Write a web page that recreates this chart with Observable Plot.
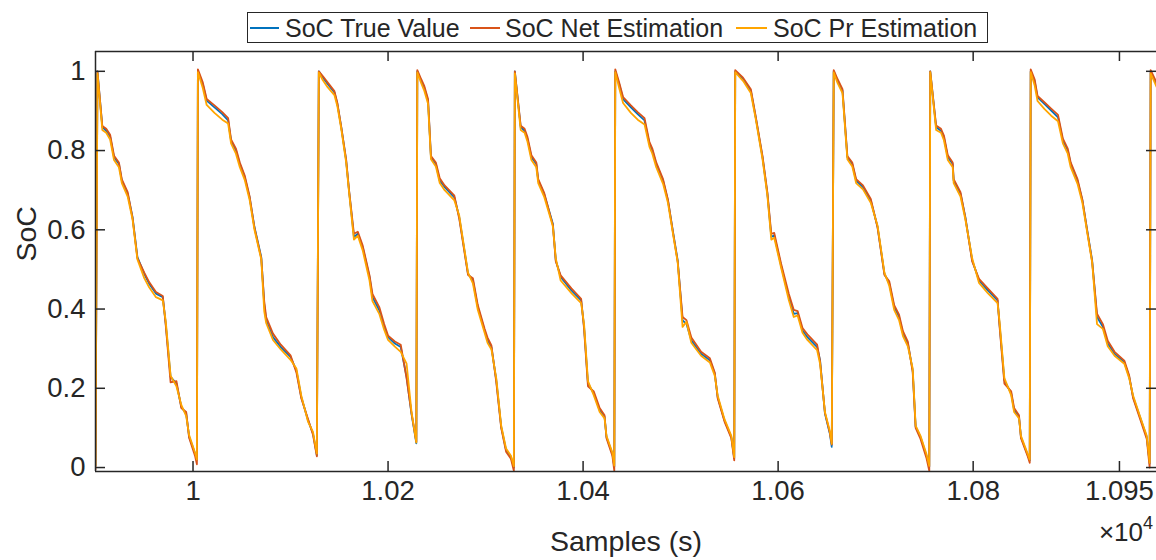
<!DOCTYPE html>
<html><head><meta charset="utf-8">
<script src="https://cdn.jsdelivr.net/npm/d3@7"></script>
<script src="https://cdn.jsdelivr.net/npm/@observablehq/plot@0.6"></script>
<style>
html,body{margin:0;padding:0;background:#fff;overflow:hidden;}
#wrap{position:relative;width:1156px;height:560px;font-family:"Liberation Sans",Arial,Helvetica,sans-serif;color:#262626;}
#legend{position:absolute;left:247px;top:12px;width:739px;height:29px;border:1.5px solid #262626;background:#fff;z-index:2;}
.sw{position:absolute;top:14px;height:2px;}
.lt{position:absolute;top:0;height:29px;line-height:30px;font-size:25px;white-space:nowrap;}
#exp{position:absolute;right:3px;top:517px;font-size:26px;white-space:nowrap;}
#exp sup{font-size:18px;vertical-align:0;position:relative;top:-12px;}
</style>
</head><body>
<div id="wrap">
  <div id="chart"></div>
  <div id="legend"></div>
  <div id="exp">×10<sup>4</sup></div>
</div>
<script>
// ---- data ----
const seriesNames = ["SoC True Value", "SoC Net Estimation", "SoC Pr Estimation"];
const seriesColors = ["#0072BD", "#D95319", "#FFA500"];

const samples = [
  9900,
  9902,9907,9911,9915,9919,9924,9927,9933,9938,9943,9950,9955,9962,9969,9972,9977,9983,9988,9993,9996,10002,10004,
  10005,10010,10014,10022,10030,10036,10039,10044,10048,10053,10058,10063,10070,10073,10075,10082,10090,10100,10106,10111,10118,10123,10127,
  10129,10133,10138,10145,10148,10152,10157,10160,10165,10169,10174,10181,10184,10191,10196,10200,10207,10213,10219,10224,10229,
  10230,10234,10237,10241,10244,10249,10253,10258,10268,10273,10282,10287,10292,10299,10302,10306,10311,10316,10321,10326,10329,
  10330,10336,10340,10343,10347,10352,10354,10360,10367,10369,10372,10377,10388,10398,10401,10405,10411,10417,10422,10424,10430,10432,
  10433,10437,10441,10449,10456,10463,10468,10471,10475,10482,10487,10492,10497,10502,10506,10511,10521,10530,10535,10538,10545,10552,10555,
  10556,10564,10572,10577,10584,10589,10593,10596,10603,10611,10616,10620,10625,10630,10640,10643,10648,10653,10655,
  10657,10661,10666,10671,10676,10680,10687,10695,10702,10709,10714,10719,10724,10728,10733,10738,10741,10746,10752,10755,
  10756,10762,10767,10770,10774,10779,10780,10787,10792,10799,10806,10815,10825,10827,10832,10839,10842,10847,10849,10856,10858,
  10859,10863,10866,10873,10880,10887,10892,10897,10900,10907,10912,10917,10922,10927,10933,10938,10945,10955,10960,10964,10971,10978,10981,
  10982,10990
];

const socTrue = [
  0.005,
  1.000,0.859,0.850,0.835,0.783,0.766,0.724,0.691,0.632,0.531,0.489,0.464,0.439,0.430,0.363,0.229,0.212,0.153,0.136,0.078,0.036,0.019,
  1.000,0.968,0.926,0.909,0.892,0.876,0.825,0.800,0.766,0.733,0.682,0.607,0.531,0.413,0.371,0.329,0.304,0.279,0.245,0.178,0.119,0.086,0.031,
  1.000,0.985,0.968,0.947,0.918,0.859,0.775,0.699,0.582,0.590,0.556,0.481,0.430,0.397,0.355,0.329,0.313,0.304,0.229,0.136,0.061,
  1.000,0.976,0.960,0.926,0.783,0.766,0.724,0.708,0.682,0.632,0.489,0.472,0.405,0.346,0.321,0.304,0.220,0.103,0.044,0.027,0.000,
  1.000,0.859,0.850,0.829,0.783,0.766,0.724,0.691,0.632,0.615,0.523,0.481,0.447,0.422,0.355,0.212,0.187,0.145,0.128,0.077,0.035,0.002,
  1.000,0.968,0.930,0.909,0.892,0.876,0.817,0.800,0.766,0.724,0.674,0.598,0.523,0.371,0.363,0.321,0.287,0.271,0.237,0.178,0.119,0.077,0.023,
  1.000,0.981,0.951,0.884,0.783,0.691,0.582,0.586,0.510,0.430,0.388,0.390,0.346,0.329,0.304,0.271,0.136,0.086,0.052,
  1.000,0.976,0.951,0.783,0.766,0.724,0.708,0.674,0.607,0.489,0.464,0.405,0.380,0.338,0.313,0.245,0.103,0.077,0.031,0.002,
  1.000,0.859,0.850,0.834,0.783,0.766,0.724,0.691,0.632,0.523,0.472,0.447,0.422,0.363,0.220,0.187,0.145,0.128,0.077,0.031,0.018,
  1.000,0.976,0.934,0.918,0.901,0.884,0.825,0.800,0.766,0.724,0.674,0.598,0.523,0.380,0.355,0.313,0.287,0.266,0.229,0.178,0.128,0.077,0.010,
  1.000,0.955
];

const socNet = [
  -0.005,
  1.000,0.862,0.855,0.840,0.787,0.770,0.727,0.695,0.630,0.528,0.492,0.468,0.443,0.433,0.360,0.215,0.218,0.150,0.140,0.075,0.030,0.008,
  1.005,0.972,0.930,0.914,0.897,0.882,0.828,0.805,0.770,0.737,0.685,0.605,0.528,0.420,0.380,0.338,0.310,0.283,0.240,0.175,0.122,0.083,0.028,
  1.000,0.988,0.972,0.950,0.920,0.860,0.778,0.700,0.590,0.595,0.560,0.485,0.438,0.405,0.362,0.333,0.318,0.310,0.225,0.138,0.065,
  1.003,0.980,0.964,0.930,0.786,0.770,0.730,0.712,0.686,0.628,0.486,0.478,0.410,0.350,0.328,0.308,0.215,0.100,0.040,0.022,-0.008,
  1.000,0.863,0.855,0.834,0.788,0.770,0.728,0.694,0.630,0.612,0.520,0.485,0.452,0.426,0.350,0.205,0.192,0.150,0.132,0.074,0.030,-0.008,
  1.005,0.972,0.935,0.914,0.897,0.882,0.822,0.805,0.770,0.728,0.676,0.596,0.520,0.380,0.372,0.328,0.292,0.276,0.240,0.175,0.116,0.074,0.018,
  1.003,0.984,0.955,0.886,0.786,0.694,0.590,0.592,0.515,0.438,0.398,0.395,0.352,0.336,0.310,0.268,0.138,0.088,0.058,
  1.003,0.980,0.955,0.786,0.770,0.728,0.712,0.678,0.605,0.486,0.470,0.410,0.386,0.344,0.318,0.240,0.100,0.072,0.025,-0.008,
  1.000,0.863,0.855,0.838,0.788,0.770,0.728,0.695,0.630,0.520,0.476,0.452,0.426,0.358,0.212,0.192,0.150,0.132,0.074,0.028,0.012,
  1.005,0.980,0.938,0.922,0.906,0.890,0.830,0.805,0.770,0.728,0.676,0.596,0.520,0.388,0.362,0.320,0.292,0.270,0.232,0.175,0.124,0.072,0.000,
  1.003,0.962
];

const socPr = [
  0.005,
  0.995,0.852,0.845,0.828,0.776,0.758,0.718,0.684,0.626,0.525,0.478,0.455,0.430,0.422,0.370,0.232,0.205,0.158,0.130,0.082,0.038,0.020,
  0.998,0.958,0.915,0.895,0.878,0.868,0.818,0.792,0.758,0.726,0.676,0.600,0.525,0.395,0.365,0.322,0.298,0.272,0.250,0.182,0.115,0.090,0.035,
  0.997,0.978,0.960,0.940,0.912,0.855,0.770,0.695,0.575,0.585,0.548,0.472,0.420,0.388,0.348,0.322,0.305,0.292,0.262,0.142,0.063,
  0.997,0.970,0.952,0.918,0.778,0.760,0.718,0.700,0.674,0.636,0.492,0.465,0.398,0.340,0.315,0.298,0.225,0.106,0.048,0.030,0.003,
  0.995,0.852,0.845,0.822,0.776,0.758,0.718,0.684,0.626,0.608,0.528,0.472,0.440,0.415,0.362,0.218,0.182,0.140,0.124,0.080,0.038,0.005,
  0.998,0.958,0.920,0.895,0.878,0.866,0.810,0.792,0.758,0.716,0.668,0.592,0.518,0.355,0.368,0.315,0.282,0.265,0.232,0.182,0.122,0.080,0.026,
  0.998,0.976,0.945,0.880,0.778,0.686,0.575,0.580,0.505,0.422,0.380,0.384,0.340,0.322,0.296,0.262,0.140,0.092,0.060,
  0.997,0.970,0.945,0.778,0.760,0.718,0.702,0.668,0.610,0.492,0.458,0.398,0.372,0.332,0.306,0.250,0.106,0.080,0.035,0.004,
  0.998,0.852,0.845,0.826,0.776,0.758,0.718,0.684,0.626,0.528,0.466,0.440,0.415,0.370,0.226,0.182,0.140,0.124,0.080,0.034,0.020,
  0.998,0.965,0.925,0.905,0.888,0.874,0.818,0.792,0.758,0.716,0.668,0.592,0.518,0.362,0.350,0.306,0.282,0.262,0.225,0.182,0.130,0.080,0.012,
  0.995,0.950
];

const xTicks = [10000, 10200, 10400, 10600, 10800, 10950];
const xTickLabels = ["1", "1.02", "1.04", "1.06", "1.08", "1.095"];
const yTicks = [0, 0.2, 0.4, 0.6, 0.8, 1];
const yTickLabels = ["0", "0.2", "0.4", "0.6", "0.8", "1"];
const xLimits = [9900, 10988];
const yLimits = [-0.01, 1.05];

// ---- build table ----
const valueArrays = [socTrue, socNet, socPr];
const data = [];
seriesNames.forEach((name, k) => {
  samples.forEach((s, i) => data.push({sample: s, soc: valueArrays[k][i], name}));
});

const W = 1156, H = 560;
const mL = 95, mR = 0, mT = 51, mB = 89;
const plotW = W - mL - mR, plotH = H - mT - mB;
const ink = "#262626";
const font = '"Liberation Sans", Arial, Helvetica, sans-serif';

const chart = Plot.plot({
  width: W, height: H,
  marginLeft: mL, marginRight: mR, marginTop: mT, marginBottom: mB,
  style: {fontFamily: font, color: ink, background: "white", overflow: "visible"},
  x: {domain: xLimits, label: null},
  y: {domain: yLimits, label: null},
  color: {domain: seriesNames, range: seriesColors},
  marks: [
    Plot.line(data, {x: "sample", y: "soc", z: "name", stroke: "name", strokeWidth: 1.8, clip: true}),
    Plot.ruleX([xLimits[0]], {stroke: ink, strokeWidth: 1.5}),
    Plot.ruleY([yLimits[0], yLimits[1]], {stroke: ink, strokeWidth: 1.5}),
    Plot.ruleX(xTicks, {stroke: ink, strokeWidth: 1.5, insetTop: plotH - 10}),
    Plot.ruleX(xTicks, {stroke: ink, strokeWidth: 1.5, insetBottom: plotH - 10}),
    Plot.ruleY(yTicks, {stroke: ink, strokeWidth: 1.5, insetRight: plotW - 10}),
    Plot.ruleY(yTicks, {stroke: ink, strokeWidth: 1.5, insetLeft: plotW - 10}),
    Plot.axisX(xTicks, {tickSize: 0, tickPadding: 9, fontSize: 27.5, label: null,
      tickFormat: d => xTickLabels[xTicks.indexOf(d)]}),
    Plot.axisY(yTicks, {tickSize: 0, tickPadding: 10, fontSize: 27.5, label: null,
      tickFormat: d => yTickLabels[yTicks.indexOf(d)]}),
    Plot.text(["Samples (s)"], {frameAnchor: "bottom", dy: 79, fontSize: 28.5, text: d => d}),
    Plot.text(["SoC"], {frameAnchor: "left", dx: -69, rotate: -90, fontSize: 28.5, text: d => d})
  ]
});
document.getElementById("chart").appendChild(chart);

// ---- legend ----
const legend = document.getElementById("legend");
const swLeft = [2, 222, 488], swWidth = [29, 30, 31], txtLeft = [37, 257, 525];
seriesNames.forEach((name, k) => {
  const sw = document.createElement("div");
  sw.className = "sw";
  sw.style.left = swLeft[k] + "px";
  sw.style.width = swWidth[k] + "px";
  sw.style.background = seriesColors[k];
  legend.appendChild(sw);
  const t = document.createElement("div");
  t.className = "lt";
  t.style.left = txtLeft[k] + "px";
  t.textContent = name;
  legend.appendChild(t);
});
</script>
</body></html>
